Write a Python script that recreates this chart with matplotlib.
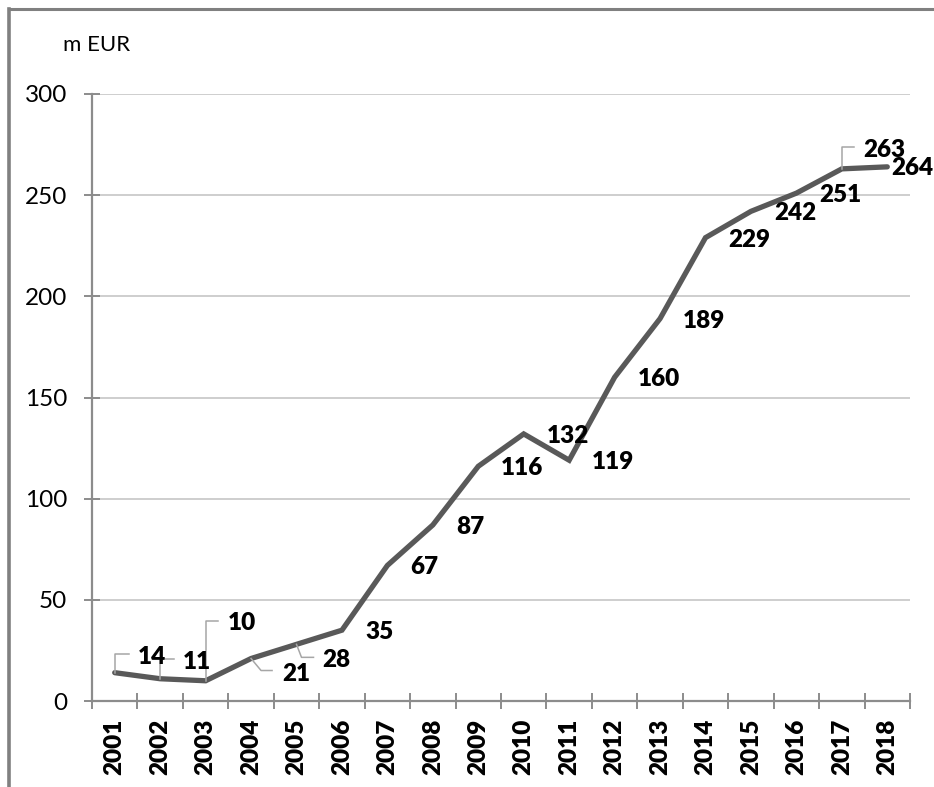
import matplotlib.pyplot as plt
from matplotlib.lines import Line2D
from matplotlib.transforms import IdentityTransform

years = [str(y) for y in range(2001, 2019)]
values = [14, 11, 10, 21, 28, 35, 67, 87, 116, 132, 119, 160, 189, 229, 242, 251, 263, 264]
y_ticks = [0, 50, 100, 150, 200, 250, 300]
unit_label = 'm EUR'

# label placement, in pixels from the point (x right, y down) - default is right of point
label_offsets = {0: (23, -17), 1: (23, -18), 2: (22, -59), 3: (31, 14), 4: (26, 15),
                 16: (21, -20), 17: (4, 0)}
leaders = {
    0: [(0, 0), (0, -19), (14, -19)],
    1: [(0, 0), (0, -20), (14, -20)],
    2: [(0, 0), (0, -60), (12, -60)],
    3: [(0, 0), (10, 12), (21, 12)],
    4: [(0, 0), (5, 13), (17, 13)],
    16: [(0, 0), (0, -22), (12, -22)],
}

plt.rcParams['font.family'] = ['Lato', 'DejaVu Sans']
W, H = 934, 787
fig = plt.figure(figsize=(W / 100, H / 100), dpi=100)
ax = fig.add_axes([92 / W, 1 - 701 / H, (910 - 92) / W, (701 - 94) / H])

x = list(range(len(years)))
ax.plot(x, values, color='#595959', lw=3.8, solid_capstyle='round', solid_joinstyle='miter', zorder=3)

ax.set_xlim(-0.5, len(years) - 0.5)
ax.set_ylim(0, 300)
ax.set_yticks(y_ticks)
ax.set_yticklabels([str(v) for v in y_ticks], fontsize=17.5)
ax.set_xticks([i - 0.5 for i in range(len(years) + 1)])
ax.set_xticklabels([])
ax.set_xticks(x, minor=True)
ax.set_xticklabels(years, minor=True, rotation=90, fontsize=17.5, fontweight='heavy', va='top')

ax.tick_params(axis='both', which='major', direction='inout', length=11.5, width=1.4, color='#8c8c8c')
ax.tick_params(axis='y', pad=12)
ax.tick_params(axis='x', which='minor', length=0, pad=12.5)

for s in ['top', 'right']:
    ax.spines[s].set_visible(False)
for s in ['left', 'bottom']:
    ax.spines[s].set_color('#8c8c8c')
    ax.spines[s].set_linewidth(1.6)

for v in y_ticks[1:]:
    ax.axhline(v, color='#c6c6c6', lw=1.2, zorder=1)

# data labels and leader lines
for i, v in enumerate(values):
    px, py = ax.transData.transform((i, v))
    dx, dy = label_offsets.get(i, (23, 1))
    fig.text(px + dx, py - dy - 8, str(v), transform=IdentityTransform(),
             fontsize=17.5, fontweight='heavy', ha='left', va='baseline', zorder=5)
    if i in leaders:
        pts = leaders[i]
        fig.add_artist(Line2D([px + a for a, b in pts], [py - b for a, b in pts],
                              transform=IdentityTransform(), color='#a6a6a6', lw=1.1, zorder=4))

fig.text(63 / W, 1 - 45 / H, unit_label, fontsize=16, ha='left', va='center')

# outer frame (top and left edges visible)
fig.add_artist(Line2D([9 / W, 1], [1 - 9 / H, 1 - 9 / H], color='#808080', lw=2.2))
fig.add_artist(Line2D([9 / W, 9 / W], [1 - 9 / H, 0], color='#808080', lw=2.6))

fig.savefig('out.png', dpi=100)
